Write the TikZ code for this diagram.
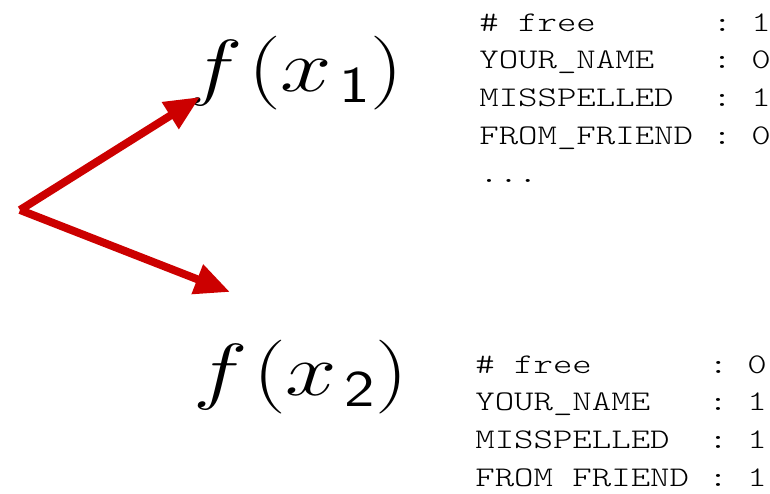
\RequirePackage{fix-cm}
\documentclass[tikz,border=0pt]{standalone}
\usepackage{fontspec}
\setmonofont[FakeStretch=1.3]{Latin Modern Mono Light}
\usepackage{amsmath}
\usetikzlibrary{arrows.meta}
\definecolor{arrowred}{HTML}{CC0000}

\tikzset{
  fval/.style={font=\fontsize{42}{48}\selectfont, anchor=base, inner sep=0pt, xscale=1.25},
  feats/.style={font=\ttfamily\fontsize{16.2}{21.6}\selectfont, anchor=base west, inner sep=0pt},
  pick/.style={draw=arrowred, line width=4.5pt, -{Triangle[length=20pt,width=17pt]}, shorten >=0pt}
}

\begin{document}
\begin{tikzpicture}
\useasboundingbox (0,0) rectangle (15.4,9.86);

% the two function values
\node[fval] (f1) at (5.92,8.04) {$f\mkern1mu(x_{\mkern2mu\textsf{1}})$};
\node[fval] (f2) at (6.02,1.96) {$f\mkern1mu(x_{\mkern2mu\textsf{2}})$};

% feature vectors
\node[feats] (v1) at (9.58,9.24) {\begin{tabular}[t]{@{}l@{\ :\ }l@{}}
\# free & 1\\ YOUR\_NAME & 0\\ MISSPELLED & 1\\ FROM\_FRIEND & 0\\
\multicolumn{2}{@{}l@{}}{...} \end{tabular}};
\node[feats] (v2) at (9.5,2.4) {\begin{tabular}[t]{@{}l@{\ :\ }l@{}}
\# free & 0\\ YOUR\_NAME & 1\\ MISSPELLED & 1\\ FROM FRIEND & 1\end{tabular}};

% arrows
\coordinate (src) at (0.4,5.66);
\coordinate (up) at (4.0,7.92);
\coordinate (down) at (4.6,4.02);
\draw[pick] (src) -- (up);
\draw[pick] (src) -- (down);
\end{tikzpicture}
\end{document}
